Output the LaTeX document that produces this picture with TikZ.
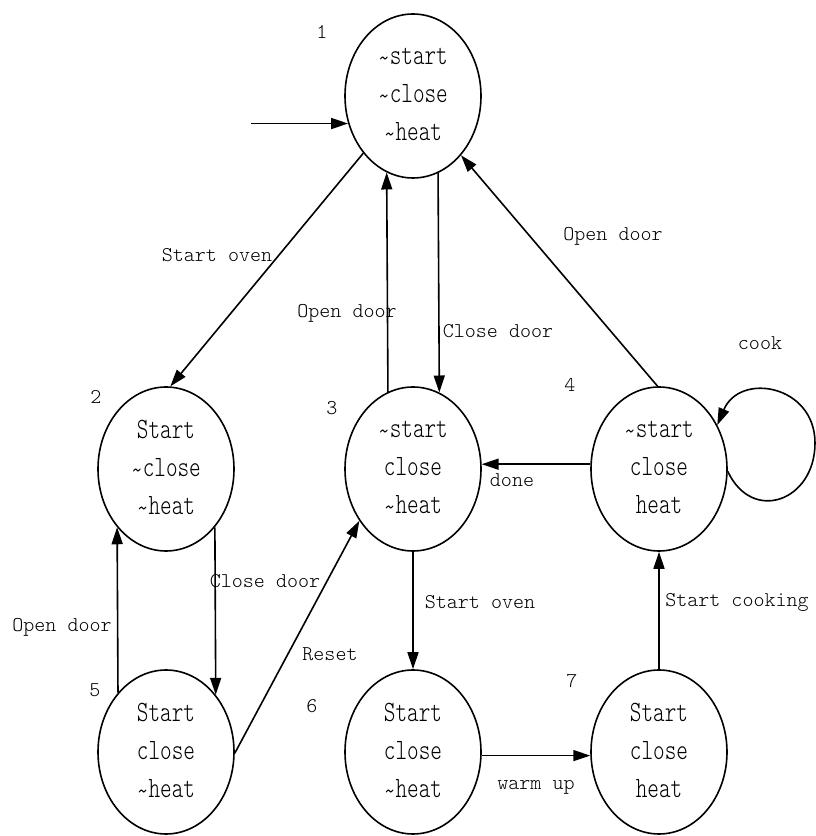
\documentclass[tikz,border=0pt]{standalone}
\usepackage{fontspec}
\newfontfamily\statefont[FakeStretch=0.75]{lmmonolt10-regular.otf}
\newfontfamily\lblfont{lmmonolt10-regular.otf}
\usetikzlibrary{shapes.geometric,arrows.meta}
\tikzset{
  state/.style={draw, ellipse, line width=1.6pt, minimum width=136pt, minimum height=164pt, inner sep=0pt},
  statetext/.style={align=center, inner sep=0pt, font=\statefont\fontsize{29.5}{38}\selectfont},
  lbl/.style={inner sep=0pt, font=\lblfont\fontsize{21}{24}\selectfont},
  edge/.style={line width=1.6pt, -{Triangle[length=17pt,width=11pt]}},
}
\newcommand{\tld}{\smash{\raisebox{-3pt}{\textasciitilde}}}
\begin{document}
\begin{tikzpicture}[x=1pt,y=1pt]
\useasboundingbox (0,0) rectangle (815,836);
% states
\node[state] (n1) at (413,740) {};
\node[state] (n2) at (166,367) {};
\node[state] (n3) at (413,367) {};
\node[state] (n4) at (659,367) {};
\node[state] (n5) at (166,84) {};
\node[state] (n6) at (413,84) {};
\node[state] (n7) at (659,84) {};
% state texts
\node[statetext] (t1) at ([yshift=2pt]n1.center) {\tld start\\\tld close\\\tld heat};
\node[statetext] (t2) at ([yshift=2pt]n2.center) {Start\\\tld close\\\tld heat};
\node[statetext] (t3) at ([yshift=2pt]n3.center) {\tld start\\close\\\tld heat};
\node[statetext] (t4) at ([yshift=2pt]n4.center) {\tld start\\close\\heat};
\node[statetext] (t5) at ([yshift=2pt]n5.center) {Start\\close\\\tld heat};
\node[statetext] (t6) at ([yshift=2pt]n6.center) {Start\\close\\\tld heat};
\node[statetext] (t7) at ([yshift=2pt]n7.center) {Start\\close\\heat};
% state numbers
\node[lbl] (k1) at (322,804) {1};
\node[lbl] (k2) at (96,439) {2};
\node[lbl] (k3) at (332,428) {3};
\node[lbl] (k4) at (570,451) {4};
\node[lbl] (k5) at (95,146) {5};
\node[lbl] (k6) at (312,130) {6};
\node[lbl] (k7) at (572,155) {7};
% edge labels
\node[lbl] (l12) at (217,581) {Start oven};
\node[lbl] (l31) at (347,523) {Open door};
\node[lbl] (l13) at (498,505) {Close door};
\node[lbl] (l41) at (613,600) {Open door};
\node[lbl] (l44) at (760,493) {cook};
\node[lbl] (l43) at (512,356) {done};
\node[lbl] (l25) at (265,255) {Close door};
\node[lbl] (l52) at (62,209) {Open door};
\node[lbl] (l53) at (330,182) {Reset};
\node[lbl] (l36) at (480,234) {Start oven};
\node[lbl] (l74) at (737,234) {Start cooking};
\node[lbl] (l67) at (536,49) {warm up};
% edges
\coordinate (init) at ([xshift=-97pt]n1.203.7);
\draw[edge] (init) -- (n1.203.7);
\draw[edge] (n1.229.7) -- (n2.87);
\draw[edge] (n3.108.1) -- (n1.251.9);
\draw[edge] (n1.288.1) -- (n3.71.9);
\draw[edge] (n4.91) -- (n1.309.5);
\draw[edge] (n4.176) -- (n3.4);
\draw[edge] (n3.270) -- (n6.90);
\draw[edge] (n6.-3) -- (n7.183);
\draw[edge] (n7.90) -- (n4.270);
\draw[edge] (n2.310.7) -- (n5.49.3);
\draw[edge] (n5.129.6) -- (n2.230.4);
\draw[edge] (n5.359) -- (n3.224);
\coordinate (loopR) at (815,393);
\draw[edge] (n4.-2) to[out=295,in=270,distance=58pt] (loopR) to[out=90,in=67,distance=58pt] (n4.37);
\end{tikzpicture}
\end{document}
